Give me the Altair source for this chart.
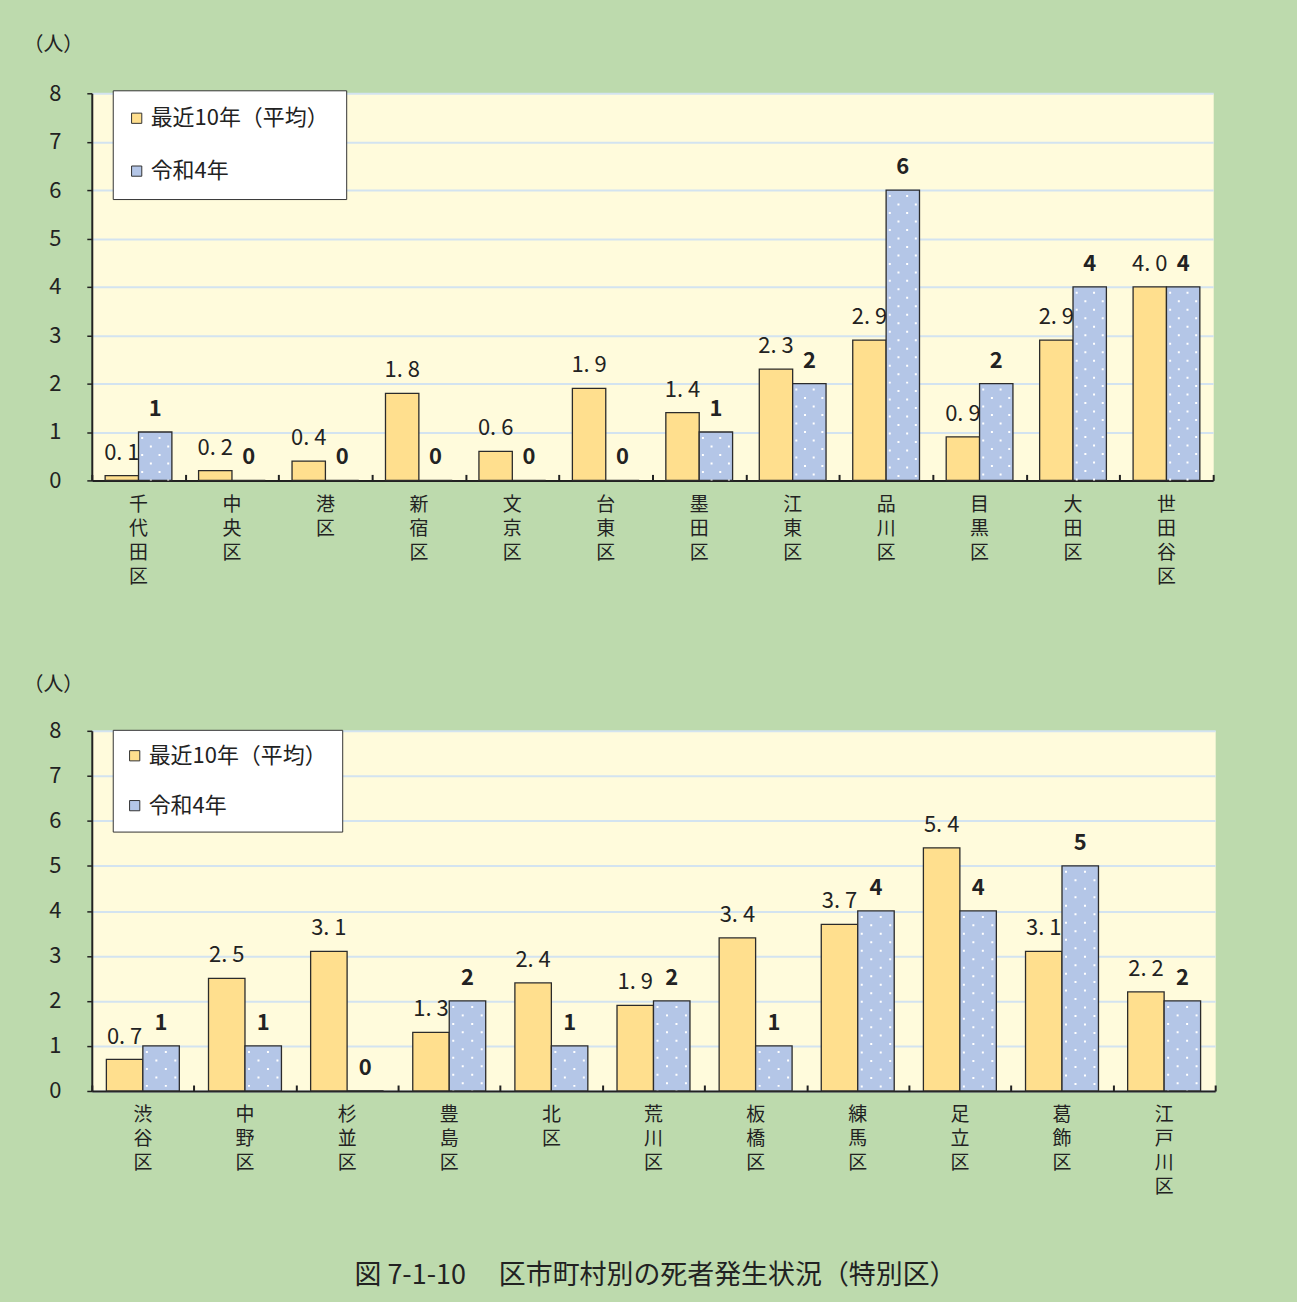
import altair as alt
import pandas as pd

# ---------------- data ----------------
top_districts = ["千代田区", "中央区", "港区", "新宿区", "文京区", "台東区",
                 "墨田区", "江東区", "品川区", "目黒区", "大田区", "世田谷区"]
top_avg = [0.1, 0.2, 0.4, 1.8, 0.6, 1.9, 1.4, 2.3, 2.9, 0.9, 2.9, 4.0]
top_r4 = [1, 0, 0, 0, 0, 0, 1, 2, 6, 2, 4, 4]

bottom_districts = ["渋谷区", "中野区", "杉並区", "豊島区", "北区", "荒川区",
                    "板橋区", "練馬区", "足立区", "葛飾区", "江戸川区"]
bottom_avg = [0.7, 2.5, 3.1, 1.3, 2.4, 1.9, 3.4, 3.7, 5.4, 3.1, 2.2]
bottom_r4 = [1, 1, 0, 2, 1, 2, 1, 4, 4, 5, 2]

series_names = ["最近10年（平均）", "令和4年"]
series_colors = ["#FFDF8E", "#B4C6E7"]
y_ticks = [0, 1, 2, 3, 4, 5, 6, 7, 8]
y_unit = "（人）"
caption = "図 7-1-10　 区市町村別の死者発生状況（特別区）"

# ---------------- style ----------------
GREEN = "#BDDAAD"
PLOT_BG = "#FFFBDC"
GRID = "#D3E3F0"
INK = "#222222"
JP = "Noto Sans CJK JP"
NUM = "Liberation Sans Narrow, Noto Sans CJK JP"


def make_df(districts, avg, r4):
    rows = []
    for d, a, r in zip(districts, avg, r4):
        rows.append({"district": d, "series": series_names[0], "value": a,
                     "label": f"{a:.1f}".replace(".", ". ")})
        rows.append({"district": d, "series": series_names[1], "value": r,
                     "label": f"{r:d}"})
    return pd.DataFrame(rows)


def panel(districts, avg, r4, w, h, title_y, legend_y, row_pad, leg_pad):
    df = make_df(districts, avg, r4)
    base = alt.Chart(df)
    x_scale = alt.Scale(domain=districts, paddingInner=0, paddingOuter=0)
    xo_scale = alt.Scale(domain=series_names, paddingInner=0, paddingOuter=0.4)
    y_scale = alt.Scale(domain=[0, 8], nice=False)

    label_axis = alt.Axis(
        orient="bottom", title=None, ticks=False, tickSize=0, grid=False,
        labelExpr="split(datum.label, '')", labelAngle=0, labelBaseline="top",
        labelFont=JP, labelFontSize=19, labelLineHeight=24, labelPadding=15,
        labelColor=INK, domainColor=INK, domainWidth=2,
    )
    tick_axis = alt.Axis(
        orient="bottom", title=None, labels=False, domain=False, grid=False,
        tickBand="extent", ticks=True, tickSize=6, tickColor=INK, tickWidth=2,
        offset=-6,
    )
    y_axis = alt.Axis(
        orient="left", values=y_ticks, grid=True, gridColor=GRID, gridWidth=2,
        domainColor=INK, domainWidth=2, tickColor=INK, tickSize=5, tickWidth=1.5,
        labelFont=NUM, labelFontSize=22, labelPadding=26, labelColor=INK,
        title=y_unit, titleAngle=0, titleX=-39, titleY=title_y,
        titleAlign="center", titleBaseline="middle", titleFont=JP,
        titleFontSize=20, titleFontWeight="normal", titleColor=INK,
    )

    bars = base.mark_bar(stroke="#2b2b2b", strokeWidth=1.3).encode(
        x=alt.X("district:N", scale=x_scale, axis=label_axis),
        xOffset=alt.XOffset("series:N", scale=xo_scale),
        y=alt.Y("value:Q", scale=y_scale, axis=y_axis),
        color=alt.Color(
            "series:N",
            scale=alt.Scale(domain=series_names, range=series_colors),
            legend=alt.Legend(
                orient="none", legendX=21, legendY=legend_y, title=None,
                fillColor="white", strokeColor="#333333", padding=leg_pad,
                symbolType="square", symbolSize=105, symbolStrokeColor="#333333",
                symbolStrokeWidth=1, symbolOffset=-4, labelFont=JP,
                labelFontSize=22, labelColor=INK, rowPadding=row_pad,
                labelOffset=3, labelLimit=400,
            ),
        ),
    )

    step = w / len(districts) / 2.8
    blue_center = step / 2
    dot_layers = []
    for cx, dash_off in [(-step * 0.39, 12), (-step * 0.13, 3.5),
                         (step * 0.13, 12), (step * 0.39, 3.5)]:
        dot_layers.append(
            base.transform_filter(alt.datum.series == series_names[1])
            .mark_rule(color="white", strokeWidth=2, strokeDash=[2, 15],
                       strokeDashOffset=dash_off, xOffset=blue_center + cx)
            .encode(
                x=alt.X("district:N", scale=x_scale, axis=None),
                y=alt.Y("value:Q", scale=y_scale, axis=None),
                y2=alt.datum(0),
            )
        )

    avg_text = base.transform_filter(alt.datum.series == series_names[0]).mark_text(
        baseline="alphabetic", dy=-16, fontSize=22, font=NUM, color=INK
    ).encode(
        x=alt.X("district:N", scale=x_scale, axis=tick_axis),
        xOffset=alt.XOffset("series:N", scale=xo_scale),
        y=alt.Y("value:Q", scale=y_scale, axis=None),
        text="label:N",
    )
    r4_text = base.transform_filter(alt.datum.series == series_names[1]).mark_text(
        baseline="alphabetic", dy=-16, fontSize=22, font=NUM, fontWeight="bold",
        color=INK
    ).encode(
        x=alt.X("district:N", scale=x_scale, axis=None),
        xOffset=alt.XOffset("series:N", scale=xo_scale),
        y=alt.Y("value:Q", scale=y_scale, axis=None),
        text="label:N",
    )

    return alt.layer(bars, *dot_layers, avg_text, r4_text).resolve_axis(
        x="independent", y="independent"
    ).properties(width=w, height=h)


top = panel(top_districts, top_avg, top_r4, 1124, 388, -49, -3, 31, 17)
bottom = panel(bottom_districts, bottom_avg, bottom_r4, 1126, 361, -46, -1, 28, 15)

chart = alt.vconcat(top, bottom, spacing=87).resolve_scale(
    color="independent", xOffset="independent"
).properties(
    title=alt.TitleParams(
        text=caption, orient="bottom", anchor="middle", font=JP, fontSize=27,
        fontWeight="normal", color=INK, offset=66, dx=36,
    ),
    padding={"left": 22, "top": 32, "right": 80, "bottom": 15},
    background=GREEN,
).configure_view(fill=PLOT_BG, stroke="transparent")

chart.save("out.html", embed_options={"renderer": "svg", "actions": False})
